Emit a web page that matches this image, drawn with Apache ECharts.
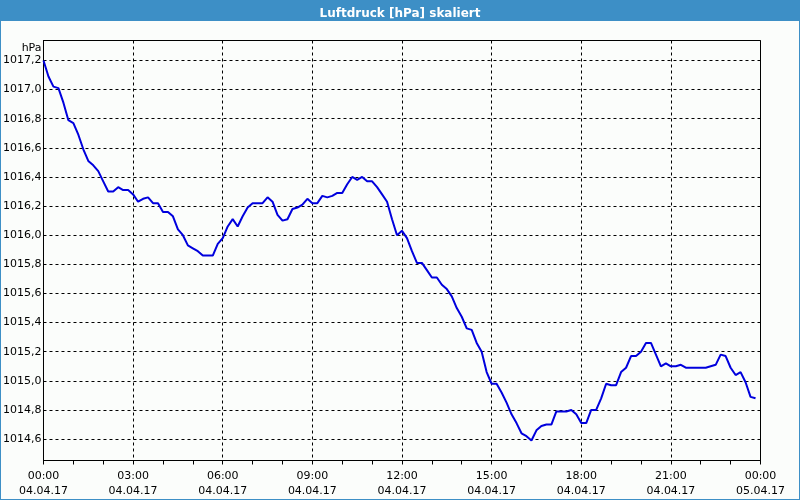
<!DOCTYPE html>
<html>
<head>
<meta charset="utf-8">
<script src="https://cdn.jsdelivr.net/npm/echarts@6/dist/echarts.min.js"></script>
<style>
html,body{margin:0;padding:0;background:#fbfdfb;}
#chart{width:800px;height:500px;}
</style>
</head>
<body>
<div id="chart"></div>
<script>
// Data: air pressure in hPa, sampled every 10 minutes from 04.04.17 00:00
const startLabel = '04.04.17 00:00';
const stepMinutes = 10;
const pressure = [
  1017.20, 1017.09, 1017.02, 1017.01, 1016.91, 1016.79, 1016.77, 1016.69, 1016.59, 1016.51,
  1016.48, 1016.44, 1016.37, 1016.30, 1016.30, 1016.33, 1016.31, 1016.31, 1016.28, 1016.23,
  1016.25, 1016.26, 1016.22, 1016.22, 1016.16, 1016.16, 1016.13, 1016.04, 1016.00, 1015.93,
  1015.91, 1015.89, 1015.86, 1015.86, 1015.86, 1015.94, 1015.98, 1016.06, 1016.11, 1016.06,
  1016.13, 1016.19, 1016.22, 1016.22, 1016.22, 1016.26, 1016.23, 1016.14, 1016.10, 1016.11,
  1016.18, 1016.19, 1016.21, 1016.25, 1016.22, 1016.22, 1016.27, 1016.26, 1016.27, 1016.29,
  1016.29, 1016.35, 1016.40, 1016.38, 1016.40, 1016.37, 1016.37, 1016.33, 1016.28, 1016.23,
  1016.11, 1016.00, 1016.03, 1015.98, 1015.89, 1015.81, 1015.81, 1015.76, 1015.71, 1015.71,
  1015.66, 1015.63, 1015.58, 1015.50, 1015.44, 1015.36, 1015.35, 1015.26, 1015.20, 1015.06,
  1014.98, 1014.98, 1014.92, 1014.85, 1014.77, 1014.71, 1014.64, 1014.62, 1014.59, 1014.66,
  1014.69, 1014.70, 1014.70, 1014.79, 1014.79, 1014.79, 1014.80, 1014.77, 1014.71, 1014.71,
  1014.80, 1014.80, 1014.88, 1014.98, 1014.97, 1014.97, 1015.06, 1015.09, 1015.17, 1015.17,
  1015.20, 1015.26, 1015.26, 1015.18, 1015.10, 1015.12, 1015.10, 1015.10, 1015.11, 1015.09,
  1015.09, 1015.09, 1015.09, 1015.09, 1015.10, 1015.11, 1015.18, 1015.17, 1015.09, 1015.04,
  1015.06, 1014.99, 1014.89, 1014.88
];
const yTicks = [1014.6, 1014.8, 1015.0, 1015.2, 1015.4, 1015.6, 1015.8, 1016.0, 1016.2, 1016.4, 1016.6, 1016.8, 1017.0, 1017.2];
const xTickHours = [0, 3, 6, 9, 12, 15, 18, 21, 24];
const xTickLabels = ['00:00\n04.04.17', '03:00\n04.04.17', '06:00\n04.04.17', '09:00\n04.04.17',
  '12:00\n04.04.17', '15:00\n04.04.17', '18:00\n04.04.17', '21:00\n04.04.17', '00:00\n05.04.17'];
const titleText = 'Luftdruck [hPa] skaliert';
const unitName = 'hPa';

const seriesData = pressure.map((v, i) => [i * stepMinutes / 60, v]);

const FONT = 'DejaVu Sans';
const chart = echarts.init(document.getElementById('chart'), null, {renderer: 'canvas'});
chart.setOption({
  backgroundColor: '#fbfdfb',
  animation: false,
  title: {
    text: titleText,
    left: 'center',
    top: 3,
    textStyle: {color: '#ffffff', fontSize: 12, fontWeight: 'bold', fontFamily: FONT}
  },
  graphic: [
    {type: 'rect', z: -1, shape: {x: 0, y: 0, width: 800, height: 21}, style: {fill: '#3d8fc6'}},
    {type: 'rect', z: -1, shape: {x: 0, y: 0, width: 1, height: 500}, style: {fill: '#3d8fc6'}},
    {type: 'rect', z: -1, shape: {x: 799, y: 0, width: 1, height: 500}, style: {fill: '#3d8fc6'}},
    {type: 'rect', z: -1, shape: {x: 0, y: 499, width: 800, height: 1}, style: {fill: '#3d8fc6'}}
  ],
  grid: {
    left: 40.5, top: 40.5, width: 720, height: 420,
    show: true, borderColor: '#000', borderWidth: 1, backgroundColor: 'transparent'
  },
  xAxis: {
    type: 'value',
    min: 0, max: 24, interval: 3,
    axisLine: {show: true, lineStyle: {color: '#000', width: 1}},
    axisTick: {show: true, length: 4, lineStyle: {color: '#000'}},
    minorTick: {show: true, splitNumber: 3, length: 4, lineStyle: {color: '#000'}},
    splitLine: {show: true, lineStyle: {color: '#000', type: [3, 3], width: 1}},
    axisLabel: {
      color: '#000', fontSize: 11, fontFamily: FONT, margin: 8, lineHeight: 15,
      formatter: (v) => {
        const i = xTickHours.indexOf(Math.round(v));
        return i >= 0 ? xTickLabels[i] : '';
      }
    }
  },
  yAxis: {
    type: 'value',
    min: 1014.453, max: 1017.337,
    name: unitName,
    nameLocation: 'end',
    nameGap: -13,
    nameTextStyle: {color: '#000', fontSize: 11, fontFamily: FONT, align: 'right', padding: [0, 2, 0, 0]},
    axisLine: {show: true, lineStyle: {color: '#000'}},
    axisTick: {show: false, customValues: yTicks},
    splitLine: {show: true, lineStyle: {color: '#000', type: [3, 3], width: 1}},
    axisLabel: {
      customValues: yTicks,
      color: '#000', fontSize: 11, fontFamily: FONT, margin: 2,
      formatter: (v) => v.toFixed(1).replace('.', ',')
    }
  },
  series: [{
    type: 'line',
    data: seriesData,
    showSymbol: false,
    symbol: 'none',
    lineStyle: {color: '#0000dd', width: 2},
    clip: true
  }]
});
</script>
</body>
</html>
